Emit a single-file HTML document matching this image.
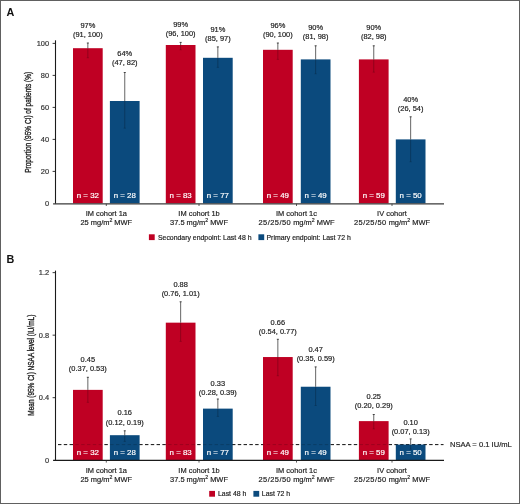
<!DOCTYPE html>
<html><head><meta charset="utf-8"><style>
html,body{margin:0;padding:0;background:#fff;}
svg{display:block;will-change:transform;}
text{font-family:"Liberation Sans", sans-serif;}
</style></head><body>
<svg width="520" height="504" viewBox="0 0 520 504">
<rect x="0.5" y="0.5" width="519" height="503" fill="#fff" stroke="#606060" stroke-width="1"/>
<line x1="58" y1="444.6" x2="443.5" y2="444.6" stroke="#1a1a1a" stroke-width="1" stroke-dasharray="3.4 2.4"/>
<text x="6.60" y="15.60" font-size="10.8" text-anchor="start" fill="#111" font-weight="bold" >A</text>
<line x1="55.5" y1="40.30" x2="55.5" y2="203.80" stroke="#1a1a1a" stroke-width="1.1"/>
<text x="49.10" y="206.10" font-size="7.45" text-anchor="end" fill="#333" font-weight="normal" stroke="#333" stroke-width="0.18" >0</text>
<line x1="52.6" y1="171.40" x2="55.5" y2="171.40" stroke="#222" stroke-width="0.9"/>
<text x="49.10" y="174.10" font-size="7.45" text-anchor="end" fill="#333" font-weight="normal" stroke="#333" stroke-width="0.18" >20</text>
<line x1="52.6" y1="139.40" x2="55.5" y2="139.40" stroke="#222" stroke-width="0.9"/>
<text x="49.10" y="142.10" font-size="7.45" text-anchor="end" fill="#333" font-weight="normal" stroke="#333" stroke-width="0.18" >40</text>
<line x1="52.6" y1="107.40" x2="55.5" y2="107.40" stroke="#222" stroke-width="0.9"/>
<text x="49.10" y="110.10" font-size="7.45" text-anchor="end" fill="#333" font-weight="normal" stroke="#333" stroke-width="0.18" >60</text>
<line x1="52.6" y1="75.40" x2="55.5" y2="75.40" stroke="#222" stroke-width="0.9"/>
<text x="49.10" y="78.10" font-size="7.45" text-anchor="end" fill="#333" font-weight="normal" stroke="#333" stroke-width="0.18" >80</text>
<line x1="52.6" y1="43.40" x2="55.5" y2="43.40" stroke="#222" stroke-width="0.9"/>
<text x="49.10" y="46.10" font-size="7.45" text-anchor="end" fill="#333" font-weight="normal" stroke="#333" stroke-width="0.18" >100</text>
<rect x="73.00" y="48.20" width="29.7" height="155.20" fill="#BF0023"/>
<rect x="109.90" y="101.00" width="29.7" height="102.40" fill="#0B4A7D"/>
<rect x="165.80" y="45.00" width="29.7" height="158.40" fill="#BF0023"/>
<rect x="203.00" y="57.80" width="29.7" height="145.60" fill="#0B4A7D"/>
<rect x="263.00" y="49.80" width="29.7" height="153.60" fill="#BF0023"/>
<rect x="300.80" y="59.40" width="29.7" height="144.00" fill="#0B4A7D"/>
<rect x="358.90" y="59.40" width="29.7" height="144.00" fill="#BF0023"/>
<rect x="395.80" y="139.40" width="29.7" height="64.00" fill="#0B4A7D"/>
<line x1="87.85" y1="43.00" x2="87.85" y2="48.20" stroke="#333" stroke-width="0.75"/>
<line x1="86.85" y1="43.00" x2="88.85" y2="43.00" stroke="#333" stroke-width="0.9"/>
<line x1="87.85" y1="48.20" x2="87.85" y2="57.80" stroke="#000" stroke-opacity="0.3" stroke-width="0.8"/>
<line x1="86.65" y1="57.80" x2="89.05" y2="57.80" stroke="#000" stroke-opacity="0.2" stroke-width="0.8"/>
<text x="87.85" y="28.40" font-size="7.45" text-anchor="middle" fill="#222" font-weight="normal" stroke="#222" stroke-width="0.18" >97%</text>
<text x="87.85" y="37.20" font-size="7.45" text-anchor="middle" fill="#222" font-weight="normal" stroke="#222" stroke-width="0.18" >(91, 100)</text>
<text x="87.85" y="198.40" font-size="7.9" text-anchor="middle" fill="#fff" font-weight="normal" stroke="#fff" stroke-width="0.18" >n = 32</text>
<line x1="124.75" y1="72.50" x2="124.75" y2="101.00" stroke="#333" stroke-width="0.75"/>
<line x1="123.75" y1="72.50" x2="125.75" y2="72.50" stroke="#333" stroke-width="0.9"/>
<line x1="124.75" y1="101.00" x2="124.75" y2="128.20" stroke="#000" stroke-opacity="0.3" stroke-width="0.8"/>
<line x1="123.55" y1="128.20" x2="125.95" y2="128.20" stroke="#000" stroke-opacity="0.2" stroke-width="0.8"/>
<text x="124.75" y="56.40" font-size="7.45" text-anchor="middle" fill="#222" font-weight="normal" stroke="#222" stroke-width="0.18" >64%</text>
<text x="124.75" y="65.40" font-size="7.45" text-anchor="middle" fill="#222" font-weight="normal" stroke="#222" stroke-width="0.18" >(47, 82)</text>
<text x="124.75" y="198.40" font-size="7.9" text-anchor="middle" fill="#fff" font-weight="normal" stroke="#fff" stroke-width="0.18" >n = 28</text>
<line x1="180.65" y1="42.40" x2="180.65" y2="45.00" stroke="#333" stroke-width="0.75"/>
<line x1="179.65" y1="42.40" x2="181.65" y2="42.40" stroke="#333" stroke-width="0.9"/>
<line x1="180.65" y1="45.00" x2="180.65" y2="49.80" stroke="#000" stroke-opacity="0.3" stroke-width="0.8"/>
<line x1="179.45" y1="49.80" x2="181.85" y2="49.80" stroke="#000" stroke-opacity="0.2" stroke-width="0.8"/>
<text x="180.65" y="26.90" font-size="7.45" text-anchor="middle" fill="#222" font-weight="normal" stroke="#222" stroke-width="0.18" >99%</text>
<text x="180.65" y="35.90" font-size="7.45" text-anchor="middle" fill="#222" font-weight="normal" stroke="#222" stroke-width="0.18" >(96, 100)</text>
<text x="180.65" y="198.40" font-size="7.9" text-anchor="middle" fill="#fff" font-weight="normal" stroke="#fff" stroke-width="0.18" >n = 83</text>
<line x1="217.85" y1="46.90" x2="217.85" y2="57.80" stroke="#333" stroke-width="0.75"/>
<line x1="216.85" y1="46.90" x2="218.85" y2="46.90" stroke="#333" stroke-width="0.9"/>
<line x1="217.85" y1="57.80" x2="217.85" y2="67.40" stroke="#000" stroke-opacity="0.3" stroke-width="0.8"/>
<line x1="216.65" y1="67.40" x2="219.05" y2="67.40" stroke="#000" stroke-opacity="0.2" stroke-width="0.8"/>
<text x="217.85" y="31.50" font-size="7.45" text-anchor="middle" fill="#222" font-weight="normal" stroke="#222" stroke-width="0.18" >91%</text>
<text x="217.85" y="40.60" font-size="7.45" text-anchor="middle" fill="#222" font-weight="normal" stroke="#222" stroke-width="0.18" >(85, 97)</text>
<text x="217.85" y="198.40" font-size="7.9" text-anchor="middle" fill="#fff" font-weight="normal" stroke="#fff" stroke-width="0.18" >n = 77</text>
<line x1="277.85" y1="43.00" x2="277.85" y2="49.80" stroke="#333" stroke-width="0.75"/>
<line x1="276.85" y1="43.00" x2="278.85" y2="43.00" stroke="#333" stroke-width="0.9"/>
<line x1="277.85" y1="49.80" x2="277.85" y2="59.40" stroke="#000" stroke-opacity="0.3" stroke-width="0.8"/>
<line x1="276.65" y1="59.40" x2="279.05" y2="59.40" stroke="#000" stroke-opacity="0.2" stroke-width="0.8"/>
<text x="277.85" y="28.40" font-size="7.45" text-anchor="middle" fill="#222" font-weight="normal" stroke="#222" stroke-width="0.18" >96%</text>
<text x="277.85" y="37.10" font-size="7.45" text-anchor="middle" fill="#222" font-weight="normal" stroke="#222" stroke-width="0.18" >(90, 100)</text>
<text x="277.85" y="198.40" font-size="7.9" text-anchor="middle" fill="#fff" font-weight="normal" stroke="#fff" stroke-width="0.18" >n = 49</text>
<line x1="315.65" y1="45.80" x2="315.65" y2="59.40" stroke="#333" stroke-width="0.75"/>
<line x1="314.65" y1="45.80" x2="316.65" y2="45.80" stroke="#333" stroke-width="0.9"/>
<line x1="315.65" y1="59.40" x2="315.65" y2="73.80" stroke="#000" stroke-opacity="0.3" stroke-width="0.8"/>
<line x1="314.45" y1="73.80" x2="316.85" y2="73.80" stroke="#000" stroke-opacity="0.2" stroke-width="0.8"/>
<text x="315.65" y="30.30" font-size="7.45" text-anchor="middle" fill="#222" font-weight="normal" stroke="#222" stroke-width="0.18" >90%</text>
<text x="315.65" y="39.30" font-size="7.45" text-anchor="middle" fill="#222" font-weight="normal" stroke="#222" stroke-width="0.18" >(81, 98)</text>
<text x="315.65" y="198.40" font-size="7.9" text-anchor="middle" fill="#fff" font-weight="normal" stroke="#fff" stroke-width="0.18" >n = 49</text>
<line x1="373.75" y1="45.80" x2="373.75" y2="59.40" stroke="#333" stroke-width="0.75"/>
<line x1="372.75" y1="45.80" x2="374.75" y2="45.80" stroke="#333" stroke-width="0.9"/>
<line x1="373.75" y1="59.40" x2="373.75" y2="72.20" stroke="#000" stroke-opacity="0.3" stroke-width="0.8"/>
<line x1="372.55" y1="72.20" x2="374.95" y2="72.20" stroke="#000" stroke-opacity="0.2" stroke-width="0.8"/>
<text x="373.75" y="29.70" font-size="7.45" text-anchor="middle" fill="#222" font-weight="normal" stroke="#222" stroke-width="0.18" >90%</text>
<text x="373.75" y="38.50" font-size="7.45" text-anchor="middle" fill="#222" font-weight="normal" stroke="#222" stroke-width="0.18" >(82, 98)</text>
<text x="373.75" y="198.40" font-size="7.9" text-anchor="middle" fill="#fff" font-weight="normal" stroke="#fff" stroke-width="0.18" >n = 59</text>
<line x1="410.65" y1="116.80" x2="410.65" y2="139.40" stroke="#333" stroke-width="0.75"/>
<line x1="409.65" y1="116.80" x2="411.65" y2="116.80" stroke="#333" stroke-width="0.9"/>
<line x1="410.65" y1="139.40" x2="410.65" y2="161.80" stroke="#000" stroke-opacity="0.3" stroke-width="0.8"/>
<line x1="409.45" y1="161.80" x2="411.85" y2="161.80" stroke="#000" stroke-opacity="0.2" stroke-width="0.8"/>
<text x="410.65" y="102.20" font-size="7.45" text-anchor="middle" fill="#222" font-weight="normal" stroke="#222" stroke-width="0.18" >40%</text>
<text x="410.65" y="111.20" font-size="7.45" text-anchor="middle" fill="#222" font-weight="normal" stroke="#222" stroke-width="0.18" >(26, 54)</text>
<text x="410.65" y="198.40" font-size="7.9" text-anchor="middle" fill="#fff" font-weight="normal" stroke="#fff" stroke-width="0.18" >n = 50</text>
<line x1="53.1" y1="203.80" x2="444" y2="203.80" stroke="#3a3a3a" stroke-width="1.35"/>
<line x1="106.30" y1="203.80" x2="106.30" y2="206.00" stroke="#333" stroke-width="0.8"/>
<line x1="199.00" y1="203.80" x2="199.00" y2="206.00" stroke="#333" stroke-width="0.8"/>
<line x1="296.50" y1="203.80" x2="296.50" y2="206.00" stroke="#333" stroke-width="0.8"/>
<line x1="392.00" y1="203.80" x2="392.00" y2="206.00" stroke="#333" stroke-width="0.8"/>
<text x="106.30" y="216.30" font-size="7.45" text-anchor="middle" fill="#222" font-weight="normal" stroke="#222" stroke-width="0.18" >IM cohort 1a</text>
<text x="106.30" y="225.00" font-size="7.45" text-anchor="middle" fill="#222" stroke="#222" stroke-width="0.18">25 mg/m<tspan dy="-3" font-size="5.2">2</tspan><tspan dy="3"> MWF</tspan></text>
<text x="199.00" y="216.30" font-size="7.45" text-anchor="middle" fill="#222" font-weight="normal" stroke="#222" stroke-width="0.18" >IM cohort 1b</text>
<text x="199.00" y="225.00" font-size="7.45" text-anchor="middle" fill="#222" stroke="#222" stroke-width="0.18">37.5 mg/m<tspan dy="-3" font-size="5.2">2</tspan><tspan dy="3"> MWF</tspan></text>
<text x="296.50" y="216.30" font-size="7.45" text-anchor="middle" fill="#222" font-weight="normal" stroke="#222" stroke-width="0.18" >IM cohort 1c</text>
<text x="296.50" y="225.00" font-size="7.45" text-anchor="middle" fill="#222" stroke="#222" stroke-width="0.18"><tspan letter-spacing="0.45">25/25/50</tspan> mg/m<tspan dy="-3" font-size="5.2">2</tspan><tspan dy="3"> MWF</tspan></text>
<text x="392.00" y="216.30" font-size="7.45" text-anchor="middle" fill="#222" font-weight="normal" stroke="#222" stroke-width="0.18" >IV cohort</text>
<text x="392.00" y="225.00" font-size="7.45" text-anchor="middle" fill="#222" stroke="#222" stroke-width="0.18"><tspan letter-spacing="0.45">25/25/50</tspan> mg/m<tspan dy="-3" font-size="5.2">2</tspan><tspan dy="3"> MWF</tspan></text>
<text transform="translate(31.00,122.30) rotate(-90)" x="0" y="0" font-size="9" text-anchor="middle" fill="#222" stroke="#222" stroke-width="0.35" textLength="101.0" lengthAdjust="spacingAndGlyphs">Proportion (95% CI) of patients (%)</text>
<rect x="148.90" y="234.30" width="5.8" height="5.8" fill="#BF0023"/>
<text x="158.00" y="239.70" font-size="6.9" text-anchor="start" fill="#222" font-weight="normal" stroke="#222" stroke-width="0.18" >Secondary endpoint: Last 48 h</text>
<rect x="258.40" y="234.30" width="5.8" height="5.8" fill="#0B4A7D"/>
<text x="266.50" y="239.70" font-size="6.9" text-anchor="start" fill="#222" font-weight="normal" stroke="#222" stroke-width="0.18" >Primary endpoint: Last 72 h</text>
<text x="6.60" y="262.90" font-size="10.8" text-anchor="start" fill="#111" font-weight="bold" >B</text>
<line x1="55.5" y1="270.60" x2="55.5" y2="460.40" stroke="#1a1a1a" stroke-width="1.1"/>
<text x="49.10" y="462.90" font-size="7.45" text-anchor="end" fill="#333" font-weight="normal" stroke="#333" stroke-width="0.18" >0</text>
<line x1="52.6" y1="397.68" x2="55.5" y2="397.68" stroke="#222" stroke-width="0.9"/>
<text x="49.10" y="400.38" font-size="7.45" text-anchor="end" fill="#333" font-weight="normal" stroke="#333" stroke-width="0.18" >0.4</text>
<line x1="52.6" y1="335.16" x2="55.5" y2="335.16" stroke="#222" stroke-width="0.9"/>
<text x="49.10" y="337.86" font-size="7.45" text-anchor="end" fill="#333" font-weight="normal" stroke="#333" stroke-width="0.18" >0.8</text>
<line x1="52.6" y1="272.64" x2="55.5" y2="272.64" stroke="#222" stroke-width="0.9"/>
<text x="49.10" y="275.34" font-size="7.45" text-anchor="end" fill="#333" font-weight="normal" stroke="#333" stroke-width="0.18" >1.2</text>
<rect x="73.00" y="389.87" width="29.7" height="70.33" fill="#BF0023"/>
<rect x="109.90" y="435.19" width="29.7" height="25.01" fill="#0B4A7D"/>
<rect x="165.80" y="322.66" width="29.7" height="137.54" fill="#BF0023"/>
<rect x="203.00" y="408.62" width="29.7" height="51.58" fill="#0B4A7D"/>
<rect x="263.00" y="357.04" width="29.7" height="103.16" fill="#BF0023"/>
<rect x="300.80" y="386.74" width="29.7" height="73.46" fill="#0B4A7D"/>
<rect x="358.90" y="421.12" width="29.7" height="39.07" fill="#BF0023"/>
<rect x="395.80" y="444.57" width="29.7" height="15.63" fill="#0B4A7D"/>
<line x1="58" y1="444.60" x2="443.5" y2="444.60" stroke="#000" stroke-opacity="0.18" stroke-width="1" stroke-dasharray="3.4 2.4"/>
<line x1="87.85" y1="377.30" x2="87.85" y2="389.87" stroke="#333" stroke-width="0.75"/>
<line x1="86.85" y1="377.30" x2="88.85" y2="377.30" stroke="#333" stroke-width="0.9"/>
<line x1="87.85" y1="389.87" x2="87.85" y2="402.37" stroke="#000" stroke-opacity="0.3" stroke-width="0.8"/>
<line x1="86.65" y1="402.37" x2="89.05" y2="402.37" stroke="#000" stroke-opacity="0.2" stroke-width="0.8"/>
<text x="87.85" y="361.70" font-size="7.45" text-anchor="middle" fill="#222" font-weight="normal" stroke="#222" stroke-width="0.18" >0.45</text>
<text x="87.85" y="370.90" font-size="7.45" text-anchor="middle" fill="#222" font-weight="normal" stroke="#222" stroke-width="0.18" >(0.37, 0.53)</text>
<text x="87.85" y="455.00" font-size="7.9" text-anchor="middle" fill="#fff" font-weight="normal" stroke="#fff" stroke-width="0.18" >n = 32</text>
<line x1="124.75" y1="430.80" x2="124.75" y2="435.19" stroke="#333" stroke-width="0.75"/>
<line x1="123.75" y1="430.80" x2="125.75" y2="430.80" stroke="#333" stroke-width="0.9"/>
<line x1="124.75" y1="435.19" x2="124.75" y2="441.44" stroke="#000" stroke-opacity="0.3" stroke-width="0.8"/>
<line x1="123.55" y1="441.44" x2="125.95" y2="441.44" stroke="#000" stroke-opacity="0.2" stroke-width="0.8"/>
<text x="124.75" y="415.40" font-size="7.45" text-anchor="middle" fill="#222" font-weight="normal" stroke="#222" stroke-width="0.18" >0.16</text>
<text x="124.75" y="424.50" font-size="7.45" text-anchor="middle" fill="#222" font-weight="normal" stroke="#222" stroke-width="0.18" >(0.12, 0.19)</text>
<text x="124.75" y="455.00" font-size="7.9" text-anchor="middle" fill="#fff" font-weight="normal" stroke="#fff" stroke-width="0.18" >n = 28</text>
<line x1="180.65" y1="301.80" x2="180.65" y2="322.66" stroke="#333" stroke-width="0.75"/>
<line x1="179.65" y1="301.80" x2="181.65" y2="301.80" stroke="#333" stroke-width="0.9"/>
<line x1="180.65" y1="322.66" x2="180.65" y2="341.41" stroke="#000" stroke-opacity="0.3" stroke-width="0.8"/>
<line x1="179.45" y1="341.41" x2="181.85" y2="341.41" stroke="#000" stroke-opacity="0.2" stroke-width="0.8"/>
<text x="180.65" y="286.80" font-size="7.45" text-anchor="middle" fill="#222" font-weight="normal" stroke="#222" stroke-width="0.18" >0.88</text>
<text x="180.65" y="295.80" font-size="7.45" text-anchor="middle" fill="#222" font-weight="normal" stroke="#222" stroke-width="0.18" >(0.76, 1.01)</text>
<text x="180.65" y="455.00" font-size="7.9" text-anchor="middle" fill="#fff" font-weight="normal" stroke="#fff" stroke-width="0.18" >n = 83</text>
<line x1="217.85" y1="399.00" x2="217.85" y2="408.62" stroke="#333" stroke-width="0.75"/>
<line x1="216.85" y1="399.00" x2="218.85" y2="399.00" stroke="#333" stroke-width="0.9"/>
<line x1="217.85" y1="408.62" x2="217.85" y2="416.44" stroke="#000" stroke-opacity="0.3" stroke-width="0.8"/>
<line x1="216.65" y1="416.44" x2="219.05" y2="416.44" stroke="#000" stroke-opacity="0.2" stroke-width="0.8"/>
<text x="217.85" y="385.80" font-size="7.45" text-anchor="middle" fill="#222" font-weight="normal" stroke="#222" stroke-width="0.18" >0.33</text>
<text x="217.85" y="395.00" font-size="7.45" text-anchor="middle" fill="#222" font-weight="normal" stroke="#222" stroke-width="0.18" >(0.28, 0.39)</text>
<text x="217.85" y="455.00" font-size="7.9" text-anchor="middle" fill="#fff" font-weight="normal" stroke="#fff" stroke-width="0.18" >n = 77</text>
<line x1="277.85" y1="339.30" x2="277.85" y2="357.04" stroke="#333" stroke-width="0.75"/>
<line x1="276.85" y1="339.30" x2="278.85" y2="339.30" stroke="#333" stroke-width="0.9"/>
<line x1="277.85" y1="357.04" x2="277.85" y2="375.80" stroke="#000" stroke-opacity="0.3" stroke-width="0.8"/>
<line x1="276.65" y1="375.80" x2="279.05" y2="375.80" stroke="#000" stroke-opacity="0.2" stroke-width="0.8"/>
<text x="277.85" y="324.70" font-size="7.45" text-anchor="middle" fill="#222" font-weight="normal" stroke="#222" stroke-width="0.18" >0.66</text>
<text x="277.85" y="333.80" font-size="7.45" text-anchor="middle" fill="#222" font-weight="normal" stroke="#222" stroke-width="0.18" >(0.54, 0.77)</text>
<text x="277.85" y="455.00" font-size="7.9" text-anchor="middle" fill="#fff" font-weight="normal" stroke="#fff" stroke-width="0.18" >n = 49</text>
<line x1="315.65" y1="366.90" x2="315.65" y2="386.74" stroke="#333" stroke-width="0.75"/>
<line x1="314.65" y1="366.90" x2="316.65" y2="366.90" stroke="#333" stroke-width="0.9"/>
<line x1="315.65" y1="386.74" x2="315.65" y2="405.50" stroke="#000" stroke-opacity="0.3" stroke-width="0.8"/>
<line x1="314.45" y1="405.50" x2="316.85" y2="405.50" stroke="#000" stroke-opacity="0.2" stroke-width="0.8"/>
<text x="315.65" y="351.90" font-size="7.45" text-anchor="middle" fill="#222" font-weight="normal" stroke="#222" stroke-width="0.18" >0.47</text>
<text x="315.65" y="360.90" font-size="7.45" text-anchor="middle" fill="#222" font-weight="normal" stroke="#222" stroke-width="0.18" >(0.35, 0.59)</text>
<text x="315.65" y="455.00" font-size="7.9" text-anchor="middle" fill="#fff" font-weight="normal" stroke="#fff" stroke-width="0.18" >n = 49</text>
<line x1="373.75" y1="414.50" x2="373.75" y2="421.12" stroke="#333" stroke-width="0.75"/>
<line x1="372.75" y1="414.50" x2="374.75" y2="414.50" stroke="#333" stroke-width="0.9"/>
<line x1="373.75" y1="421.12" x2="373.75" y2="428.94" stroke="#000" stroke-opacity="0.3" stroke-width="0.8"/>
<line x1="372.55" y1="428.94" x2="374.95" y2="428.94" stroke="#000" stroke-opacity="0.2" stroke-width="0.8"/>
<text x="373.75" y="398.80" font-size="7.45" text-anchor="middle" fill="#222" font-weight="normal" stroke="#222" stroke-width="0.18" >0.25</text>
<text x="373.75" y="408.10" font-size="7.45" text-anchor="middle" fill="#222" font-weight="normal" stroke="#222" stroke-width="0.18" >(0.20, 0.29)</text>
<text x="373.75" y="455.00" font-size="7.9" text-anchor="middle" fill="#fff" font-weight="normal" stroke="#fff" stroke-width="0.18" >n = 59</text>
<line x1="410.65" y1="438.90" x2="410.65" y2="444.57" stroke="#333" stroke-width="0.75"/>
<line x1="409.65" y1="438.90" x2="411.65" y2="438.90" stroke="#333" stroke-width="0.9"/>
<line x1="410.65" y1="444.57" x2="410.65" y2="449.26" stroke="#000" stroke-opacity="0.3" stroke-width="0.8"/>
<line x1="409.45" y1="449.26" x2="411.85" y2="449.26" stroke="#000" stroke-opacity="0.2" stroke-width="0.8"/>
<text x="410.65" y="424.50" font-size="7.45" text-anchor="middle" fill="#222" font-weight="normal" stroke="#222" stroke-width="0.18" >0.10</text>
<text x="410.65" y="433.80" font-size="7.45" text-anchor="middle" fill="#222" font-weight="normal" stroke="#222" stroke-width="0.18" >(0.07, 0.13)</text>
<text x="410.65" y="455.00" font-size="7.9" text-anchor="middle" fill="#fff" font-weight="normal" stroke="#fff" stroke-width="0.18" >n = 50</text>
<line x1="53.1" y1="460.40" x2="444" y2="460.40" stroke="#1a1a1a" stroke-width="1.35"/>
<line x1="106.30" y1="460.40" x2="106.30" y2="462.60" stroke="#333" stroke-width="0.8"/>
<line x1="199.00" y1="460.40" x2="199.00" y2="462.60" stroke="#333" stroke-width="0.8"/>
<line x1="296.50" y1="460.40" x2="296.50" y2="462.60" stroke="#333" stroke-width="0.8"/>
<line x1="392.00" y1="460.40" x2="392.00" y2="462.60" stroke="#333" stroke-width="0.8"/>
<text x="106.30" y="472.70" font-size="7.45" text-anchor="middle" fill="#222" font-weight="normal" stroke="#222" stroke-width="0.18" >IM cohort 1a</text>
<text x="106.30" y="481.90" font-size="7.45" text-anchor="middle" fill="#222" stroke="#222" stroke-width="0.18">25 mg/m<tspan dy="-3" font-size="5.2">2</tspan><tspan dy="3"> MWF</tspan></text>
<text x="199.00" y="472.70" font-size="7.45" text-anchor="middle" fill="#222" font-weight="normal" stroke="#222" stroke-width="0.18" >IM cohort 1b</text>
<text x="199.00" y="481.90" font-size="7.45" text-anchor="middle" fill="#222" stroke="#222" stroke-width="0.18">37.5 mg/m<tspan dy="-3" font-size="5.2">2</tspan><tspan dy="3"> MWF</tspan></text>
<text x="296.50" y="472.70" font-size="7.45" text-anchor="middle" fill="#222" font-weight="normal" stroke="#222" stroke-width="0.18" >IM cohort 1c</text>
<text x="296.50" y="481.90" font-size="7.45" text-anchor="middle" fill="#222" stroke="#222" stroke-width="0.18"><tspan letter-spacing="0.45">25/25/50</tspan> mg/m<tspan dy="-3" font-size="5.2">2</tspan><tspan dy="3"> MWF</tspan></text>
<text x="392.00" y="472.70" font-size="7.45" text-anchor="middle" fill="#222" font-weight="normal" stroke="#222" stroke-width="0.18" >IV cohort</text>
<text x="392.00" y="481.90" font-size="7.45" text-anchor="middle" fill="#222" stroke="#222" stroke-width="0.18"><tspan letter-spacing="0.45">25/25/50</tspan> mg/m<tspan dy="-3" font-size="5.2">2</tspan><tspan dy="3"> MWF</tspan></text>
<text transform="translate(33.60,365.20) rotate(-90)" x="0" y="0" font-size="9" text-anchor="middle" fill="#222" stroke="#222" stroke-width="0.35" textLength="101.0" lengthAdjust="spacingAndGlyphs">Mean (95% CI) NSAA level (IU/mL)</text>
<rect x="209.20" y="490.90" width="5.8" height="5.8" fill="#BF0023"/>
<text x="218.00" y="496.30" font-size="6.9" text-anchor="start" fill="#222" font-weight="normal" stroke="#222" stroke-width="0.18" >Last 48 h</text>
<rect x="253.40" y="490.90" width="5.8" height="5.8" fill="#0B4A7D"/>
<text x="261.80" y="496.30" font-size="6.9" text-anchor="start" fill="#222" font-weight="normal" stroke="#222" stroke-width="0.18" >Last 72 h</text>
<text x="450.00" y="446.90" font-size="7.6" text-anchor="start" fill="#222" font-weight="normal" stroke="#222" stroke-width="0.18" >NSAA = 0.1 IU/mL</text>
</svg>
</body></html>
